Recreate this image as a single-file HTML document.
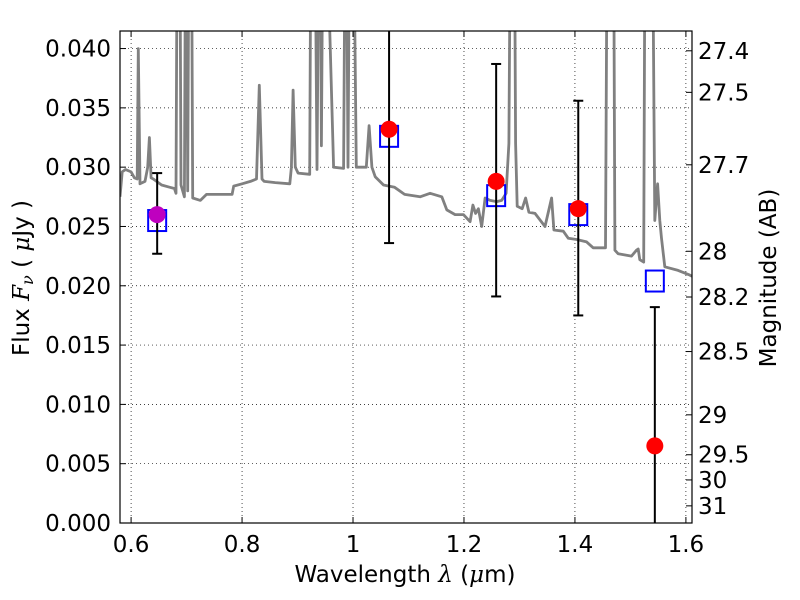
<!DOCTYPE html>
<html><head><meta charset="utf-8">
<style>
html,body{margin:0;padding:0;background:#fff;overflow:hidden;width:800px;height:600px;}
svg{display:block;font-family:"DejaVu Sans","Liberation Sans",sans-serif;}
</style></head>
<body>
<svg id="chart" width="800" height="600" viewBox="0 0 800 600">
<defs><clipPath id="plotclip"><rect x="120" y="31" width="572" height="492"/></clipPath></defs>
<rect x="0" y="0" width="800" height="600" fill="#fff"/>
<g id="grid"></g>
<g id="spec" clip-path="url(#plotclip)"></g>
<g id="marks" clip-path="url(#plotclip)"></g>
<rect x="120" y="31" width="572" height="492" fill="none" stroke="#000" stroke-width="1.2"/>
<g id="axes"></g>
<text x="405" y="582" font-size="23" text-anchor="middle">Wavelength  <tspan font-style="italic" font-family="DejaVu Serif, serif">λ</tspan> (<tspan font-style="italic" font-family="DejaVu Serif, serif">μ</tspan>m)</text>
<text transform="translate(29,278) rotate(-90)" font-size="23" text-anchor="middle">Flux  <tspan font-style="italic" font-family="DejaVu Serif, serif">F</tspan><tspan font-style="italic" font-family="DejaVu Serif, serif" font-size="16" dy="4">ν</tspan><tspan dy="-4">  ( </tspan><tspan font-style="italic" font-family="DejaVu Serif, serif">μ</tspan>Jy )</text>
<text transform="translate(776,278) rotate(-90)" font-size="23" text-anchor="middle">Magnitude (AB)</text>
</svg>
<script>
const xTicks = [0.6, 0.8, 1.0, 1.2, 1.4, 1.6];
const xTickLabels = ["0.6", "0.8", "1", "1.2", "1.4", "1.6"];
const yTicks = [0, 0.005, 0.01, 0.015, 0.02, 0.025, 0.03, 0.035, 0.04];
const yTickLabels = ["0.000","0.005","0.010","0.015","0.020","0.025","0.030","0.035","0.040"];
const magTicks = [27.4, 27.5, 27.7, 28, 28.2, 28.5, 29, 29.5, 30, 31];
const magTickLabels = ["27.4","27.5","27.7","28","28.2","28.5","29","29.5","30","31"];
const specWave = [0.580,0.584,0.590,0.600,0.606,0.611,0.613,0.616,0.625,0.630,0.633,0.636,0.640,0.655,0.670,0.678,0.681,0.684,0.687,0.690,0.696,0.699,0.702,0.705,0.708,0.711,0.725,0.736,0.760,0.782,0.785,0.800,0.815,0.826,0.831,0.836,0.840,0.860,0.886,0.889,0.892,0.896,0.901,0.922,0.925,0.930,0.935,0.940,0.943,0.947,0.965,0.983,0.987,0.991,0.995,0.999,1.006,1.024,1.029,1.034,1.040,1.055,1.075,1.093,1.121,1.139,1.160,1.169,1.184,1.199,1.211,1.216,1.221,1.226,1.232,1.238,1.247,1.259,1.268,1.276,1.281,1.285,1.290,1.293,1.296,1.305,1.311,1.317,1.328,1.346,1.358,1.362,1.379,1.388,1.403,1.421,1.433,1.455,1.459,1.464,1.469,1.472,1.478,1.502,1.511,1.514,1.517,1.524,1.527,1.531,1.536,1.540,1.544,1.549,1.553,1.556,1.562,1.586,1.607,1.611];
const specFlux = [0.0275,0.0296,0.0298,0.0296,0.0291,0.0290,0.0400,0.0286,0.0288,0.0300,0.0325,0.0291,0.0290,0.0285,0.0283,0.0282,0.0278,0.0600,0.0600,0.0285,0.0275,0.0600,0.0280,0.0600,0.0600,0.0274,0.0272,0.0277,0.0277,0.0277,0.0284,0.0286,0.0288,0.0290,0.0369,0.0290,0.0288,0.0287,0.0286,0.0300,0.0365,0.0300,0.0295,0.0294,0.0600,0.0600,0.0298,0.0600,0.0318,0.0600,0.0300,0.0299,0.0600,0.0300,0.0600,0.0600,0.0300,0.0300,0.0335,0.0300,0.0292,0.0285,0.0283,0.0277,0.0275,0.0278,0.0275,0.0264,0.0260,0.0260,0.0254,0.0268,0.0261,0.0265,0.0250,0.0274,0.0272,0.0271,0.0272,0.0278,0.0320,0.0600,0.0600,0.0320,0.0267,0.0265,0.0274,0.0262,0.0261,0.0250,0.0274,0.0247,0.0246,0.0240,0.0239,0.0237,0.0232,0.0232,0.0600,0.0600,0.0600,0.0230,0.0227,0.0225,0.0230,0.0231,0.0222,0.0220,0.0600,0.0600,0.0600,0.0500,0.0255,0.0286,0.0255,0.0240,0.0216,0.0213,0.0209,0.0208];
const photWave = [0.647, 1.065, 1.258, 1.406, 1.544];
const photFlux = [0.0260, 0.0332, 0.0288, 0.0265, 0.0065];
const errLow = [0.0227, 0.0236, 0.0191, 0.0175, -0.002];
const errHigh = [0.0295, 0.0430, 0.0387, 0.0356, 0.0182];
const showCapLow = [true, true, true, true, false];
const showCapHigh = [true, false, true, true, true];
const modelFlux = [0.0255, 0.0326, 0.0276, 0.0260, 0.0204];
const pointColors = ["#bf00bf", "#ff0000", "#ff0000", "#ff0000", "#ff0000"];

const NS = "http://www.w3.org/2000/svg";
const X0 = 120, X1 = 692, Y0 = 523, Y1 = 31;
const xMin = 0.58, xMax = 1.611, yMin = 0, yMax = 0.04148;
function xs(v){ return X0 + (v - xMin) / (xMax - xMin) * (X1 - X0); }
function ys(v){ return Y0 - (v - yMin) / (yMax - yMin) * (Y0 - Y1); }
function magToFlux(m){ return Math.pow(10, (23.9 - m) / 2.5); }
function mk(tag, attrs, parent){
  const e = document.createElementNS(NS, tag);
  for (const k in attrs) e.setAttribute(k, attrs[k]);
  parent.appendChild(e);
  return e;
}
const grid = document.getElementById('grid');
const axes = document.getElementById('axes');
const spec = document.getElementById('spec');
const marks = document.getElementById('marks');

xTicks.forEach((t, i) => {
  const x = xs(t);
  const g = mk('line', {x1:x, x2:x, y1:Y1, y2:Y0, stroke:'#000', 'stroke-width':0.7, 'stroke-dasharray':'1,3'}, grid);
  
  
  const a = mk('line', {x1:x, x2:x, y1:Y0, y2:Y0-6, stroke:'#000', 'stroke-width':1}, axes);
  
  
  const b = mk('line', {x1:x, x2:x, y1:Y1, y2:Y1+6, stroke:'#000', 'stroke-width':1}, axes);
  
  
  const tx = mk('text', {x:x, y:552, 'font-size':23, 'text-anchor':'middle'}, axes);
  tx.textContent = xTickLabels[i];
  
  
});
yTicks.forEach((t, i) => {
  const y = ys(t);
  const g = mk('line', {x1:X0, x2:X1, y1:y, y2:y, stroke:'#000', 'stroke-width':0.7, 'stroke-dasharray':'1,3'}, grid);
  
  
  const a = mk('line', {x1:X0, x2:X0+6, y1:y, y2:y, stroke:'#000', 'stroke-width':1}, axes);
  
  
  const tx = mk('text', {x:111, y:y+8, 'font-size':23, 'text-anchor':'end'}, axes);
  tx.textContent = yTickLabels[i];
  
  
});
magTicks.forEach((m, i) => {
  const y = ys(magToFlux(m));
  const a = mk('line', {x1:X1, x2:X1-6, y1:y, y2:y, stroke:'#000', 'stroke-width':1}, axes);
  
  
  const tx = mk('text', {x:698, y:y+8, 'font-size':23, 'text-anchor':'start'}, axes);
  tx.textContent = magTickLabels[i];
  
  
});

const pts = specWave.map((w, i) => xs(w).toFixed(1) + ',' + ys(specFlux[i]).toFixed(1)).join(' ');
const line = mk('polyline', {points:pts, fill:'none', stroke:'#808080', 'stroke-width':2.8, 'stroke-linejoin':'round'}, spec);



photWave.forEach((w, i) => {
  const x = xs(w);
  const sq = mk('rect', {x:x-9, y:ys(modelFlux[i])-10.5, width:18, height:21, fill:'none', stroke:'#0000ff', 'stroke-width':2}, marks);
  
  
});
photWave.forEach((w, i) => {
  const x = xs(w);
  const el = mk('line', {x1:x, x2:x, y1:ys(errLow[i]), y2:ys(errHigh[i]), stroke:'#000', 'stroke-width':2}, marks);
  
  
  if (showCapLow[i]) {
    const c = mk('line', {x1:x-5, x2:x+5, y1:ys(errLow[i]), y2:ys(errLow[i]), stroke:'#000', 'stroke-width':2}, marks);
    
    
  }
  if (showCapHigh[i]) {
    const c = mk('line', {x1:x-5, x2:x+5, y1:ys(errHigh[i]), y2:ys(errHigh[i]), stroke:'#000', 'stroke-width':2}, marks);
    
    
  }
  const p = mk('circle', {cx:x, cy:ys(photFlux[i]), r:8.5, fill:pointColors[i]}, marks);
  
  
});
</script>
</body></html>
